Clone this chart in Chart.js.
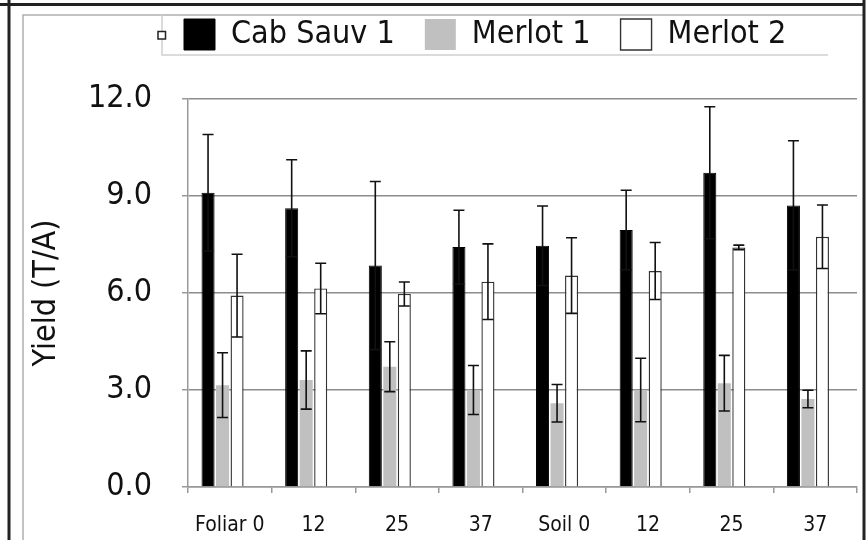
<!DOCTYPE html>
<html>
<head>
<meta charset="utf-8">
<script src="https://cdn.jsdelivr.net/npm/chart.js@4"></script>
<style>
  html, body { margin: 0; padding: 0; background: #fff; }
  #wrap { width: 867px; height: 540px; }
</style>
</head>
<body>
<div id="wrap"><canvas id="yieldChart" width="867" height="540"></canvas></div>
<script>
const categories = ["Foliar 0", "12", "25", "37", "Soil 0", "12", "25", "37"];
const cabSauv1 = [9.10, 8.62, 6.85, 7.42, 7.46, 7.95, 9.72, 8.71];
const cabSauv1Err = [1.80, 1.50, 2.60, 1.14, 1.23, 1.23, 2.04, 2.00];
const merlot1 = [3.15, 3.31, 3.72, 3.00, 2.59, 3.00, 3.21, 2.72];
const merlot1Err = [1.00, 0.90, 0.77, 0.76, 0.58, 0.98, 0.86, 0.27];
const merlot2 = [5.92, 6.14, 5.97, 6.35, 6.54, 6.68, 7.41, 7.74];
const merlot2Err = [1.28, 0.78, 0.37, 1.17, 1.17, 0.88, 0.07, 0.98];
const yTicks = [0, 3, 6, 9, 12];

const FONT = "'DejaVu Sans Condensed', 'DejaVu Sans', sans-serif";
const errors = [cabSauv1Err, merlot1Err, merlot2Err];

// excel-ish frame around the chart + the stray legend marker
const frame = {
    id: "frame",
    beforeDraw(chart) {
        const ctx = chart.ctx;
        ctx.save();
        ctx.fillStyle = "#fff";
        ctx.fillRect(0, 0, chart.width, chart.height);
        ctx.lineWidth = 1.5;
        ctx.strokeStyle = "#b0b0b0";
        ctx.beginPath();
        ctx.moveTo(23, 540); ctx.lineTo(23, 15); ctx.lineTo(863, 15);
        ctx.stroke();
        ctx.strokeStyle = "#cfcfcf";
        ctx.beginPath();
        ctx.moveTo(162, 15); ctx.lineTo(162, 55); ctx.lineTo(828, 55);
        ctx.stroke();
        ctx.strokeStyle = "#222";
        ctx.lineWidth = 3;
        ctx.beginPath();
        ctx.moveTo(0, 4.5); ctx.lineTo(865, 4.5);
        ctx.moveTo(9, 0); ctx.lineTo(9, 540);
        ctx.moveTo(864, 0); ctx.lineTo(864, 540);
        ctx.stroke();
        ctx.lineWidth = 1.5;
        ctx.fillStyle = "#fff";
        ctx.fillRect(158, 31.5, 7.5, 7.5);
        ctx.strokeRect(158, 31.5, 7.5, 7.5);
        ctx.restore();
    },
    afterLayout(chart) {
        const lg = chart.legend;
        const pad = chart.options.plugins.legend.labels.padding;
        lg.left = 184 - pad;
        lg.top = 18.5 - pad;
    },
};

const errorBars = {
    id: "errorBars",
    afterDatasetsDraw(chart) {
        const ctx = chart.ctx;
        const y = chart.scales.y;
        ctx.save();
        ctx.strokeStyle = "#111";
        ctx.lineWidth = 1.6;
        errors.forEach((errs, d) => {
            const meta = chart.getDatasetMeta(d);
            const vals = chart.data.datasets[d].data;
            meta.data.forEach((bar, i) => {
                const top = y.getPixelForValue(vals[i] + errs[i]);
                const bot = y.getPixelForValue(vals[i] - errs[i]);
                const cap = 5.5;
                ctx.beginPath();
                ctx.moveTo(bar.x, top); ctx.lineTo(bar.x, bot);
                ctx.moveTo(bar.x - cap, top); ctx.lineTo(bar.x + cap, top);
                ctx.moveTo(bar.x - cap, bot); ctx.lineTo(bar.x + cap, bot);
                ctx.stroke();
            });
        });
        ctx.restore();
    },
};

const barOpts = { categoryPercentage: 0.694, barPercentage: 0.9 };

new Chart(document.getElementById("yieldChart"), {
    type: "bar",
    data: {
        labels: categories,
        datasets: [
            { label: "Cab Sauv 1", data: cabSauv1, backgroundColor: "#000", borderColor: "#000", borderWidth: 1, ...barOpts },
            { label: "Merlot 1", data: merlot1, backgroundColor: "#c0c0c0", borderColor: "#c0c0c0", borderWidth: 0, ...barOpts },
            { label: "Merlot 2", data: merlot2, backgroundColor: "#fff", borderColor: "#333", borderWidth: 1.4, ...barOpts },
            // empty series, it only takes up the 4th slot like the original sheet
            { label: "", data: categories.map(() => null), ...barOpts },
        ],
    },
    options: {
        responsive: false,
        animation: false,
        layout: { padding: { left: 0, right: 10, top: 27, bottom: 0 } },
        plugins: {
            legend: {
                position: "top",
                align: "start",
                labels: {
                    filter: (item) => item.datasetIndex < 3,
                    boxWidth: 31,
                    boxHeight: 31,
                    padding: 30,
                    color: "#111",
                    font: { family: FONT, size: 32 },
                },
            },
            tooltip: { enabled: false },
        },
        scales: {
            x: {
                grid: { offset: true, drawOnChartArea: false, tickLength: 6, color: "#999", lineWidth: 1.5 },
                border: { color: "#999", width: 1.5 },
                ticks: { color: "#111", font: { family: FONT, size: 21 }, padding: 20, maxRotation: 0, autoSkip: false },
                afterFit: (s) => { s.height = 53; },
            },
            y: {
                min: yTicks[0],
                max: yTicks[yTicks.length - 1],
                afterBuildTicks: (s) => { s.ticks = yTicks.map((v) => ({ value: v })); },
                ticks: { color: "#111", font: { family: FONT, size: 32 }, padding: 30, callback: (v) => v.toFixed(1) },
                grid: { color: "#8c8c8c", lineWidth: 1.5, tickLength: 6, tickColor: "#999" },
                border: { color: "#999", width: 1.5 },
                title: { display: true, text: "Yield (T/A)", color: "#111", font: { family: FONT, size: 32 }, padding: { top: 27, bottom: 0 } },
                afterFit: (s) => { s.width = 188; },
            },
        },
    },
    plugins: [frame, errorBars],
});
</script>
</body>
</html>
